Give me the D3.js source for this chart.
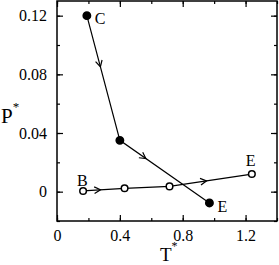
<!DOCTYPE html>
<meta charset="utf-8">
<script src="https://d3js.org/d3.v7.min.js"></script>
<style>
  body { margin: 0; background: #fff; }
  text { font-family: "Liberation Serif", "DejaVu Serif", serif; fill: #000; }
</style>
<div id="chart"></div>
<script>
// data
var cT = [0.19, 0.40, 0.97];          // filled path C -> E
var cP = [0.12, 0.035, -0.0077];
var bT = [0.166, 0.43, 0.716, 1.24];  // open path B -> E
var bP = [0.0005, 0.0023, 0.0036, 0.012];
// where the arrow sits along each segment (fraction)
var cArrow = [0.41, 0.29];
var bArrow = [0.42, null, 0.45];
var xTicks = [0, 0.4, 0.8, 1.2];
var yTicks = [0, 0.04, 0.08, 0.12];

var W = 279, H = 265;
var margin = {top: 1, right: 2, bottom: 44, left: 57},
    width = W - margin.left - margin.right,
    height = H - margin.top - margin.bottom;

var svg = d3.select("#chart").append("svg")
    .attr("width", W).attr("height", H)
  .append("g")
    .attr("transform", "translate(" + margin.left + "," + margin.top + ")");

var x = d3.scaleLinear().domain([0, 1.4]).range([0, width]);
var y = d3.scaleLinear().domain([-0.02, 0.13]).range([height, 0]);

var xMinor = d3.range(0, 1.41, 0.2);
var yMinor = d3.range(-0.02, 0.131, 0.02);

var fmtX = function(d) { return d3.format("")(+d.toFixed(1)); };
var fmtY = function(d) { return d3.format("")(+d.toFixed(2)); };

function styleAxis(g) {
  g.select(".domain").remove();
  g.selectAll("line").attr("stroke", "#000").attr("stroke-width", 1.2);
  g.selectAll("text").style("font-size", "16px").attr("fill", "#000");
}

// minor ticks, pointing inward on all four sides
svg.append("g").attr("transform", "translate(0," + height + ")")
  .call(d3.axisBottom(x).tickValues(xMinor).tickSize(-3).tickFormat(""))
  .call(styleAxis);
svg.append("g")
  .call(d3.axisTop(x).tickValues(xMinor).tickSize(-3).tickFormat(""))
  .call(styleAxis);
svg.append("g")
  .call(d3.axisLeft(y).tickValues(yMinor).tickSize(-3).tickFormat(""))
  .call(styleAxis);
svg.append("g").attr("transform", "translate(" + width + ",0)")
  .call(d3.axisRight(y).tickValues(yMinor).tickSize(-3).tickFormat(""))
  .call(styleAxis);

// major ticks
svg.append("g").attr("transform", "translate(0," + height + ")")
  .call(d3.axisBottom(x).tickValues(xTicks).tickSize(-6).tickPadding(9).tickFormat(fmtX))
  .call(styleAxis);
svg.append("g")
  .call(d3.axisTop(x).tickValues(xTicks).tickSize(-6).tickFormat(""))
  .call(styleAxis);
svg.append("g")
  .call(d3.axisLeft(y).tickValues(yTicks).tickSize(-6).tickPadding(10).tickFormat(fmtY))
  .call(styleAxis);
svg.append("g").attr("transform", "translate(" + width + ",0)")
  .call(d3.axisRight(y).tickValues(yTicks).tickSize(-6).tickFormat(""))
  .call(styleAxis);

// frame
svg.append("rect")
  .attr("width", width).attr("height", height)
  .attr("fill", "none").attr("stroke", "#000").attr("stroke-width", 1.5);

var line = d3.line().x(function(d) { return x(d[0]); }).y(function(d) { return y(d[1]); });

function drawPath(ts, ps, arrows, filled) {
  var pts = ts.map(function(t, i) { return [t, ps[i]]; });
  svg.append("path").datum(pts).attr("d", line)
    .attr("fill", "none").attr("stroke", "#000").attr("stroke-width", 1.2);

  // open arrowheads along the segments
  arrows.forEach(function(f, i) {
    if (f == null) return;
    var x0 = x(pts[i][0]), y0 = y(pts[i][1]), x1 = x(pts[i + 1][0]), y1 = y(pts[i + 1][1]);
    var tx = x0 + (x1 - x0) * f, ty = y0 + (y1 - y0) * f;
    var a = Math.atan2(y1 - y0, x1 - x0), L = 7, s = 0.5;
    var p = [[tx - L * Math.cos(a - s), ty - L * Math.sin(a - s)], [tx, ty],
             [tx - L * Math.cos(a + s), ty - L * Math.sin(a + s)]];
    svg.append("path").attr("d", "M" + p.join("L"))
      .attr("fill", "none").attr("stroke", "#000").attr("stroke-width", 1.2);
  });

  svg.selectAll(null).data(pts).enter().append("circle")
    .attr("cx", function(d) { return x(d[0]); })
    .attr("cy", function(d) { return y(d[1]); })
    .attr("r", filled ? 3.7 : 3.3)
    .attr("fill", filled ? "#000" : "#fff")
    .attr("stroke", "#000").attr("stroke-width", 1.5);
}

drawPath(cT, cP, cArrow, true);
drawPath(bT, bP, bArrow, false);

// point labels
function label(t, p, dx, dy, s) {
  svg.append("text").attr("x", x(t) + dx).attr("y", y(p) + dy)
    .style("font-size", "16px").text(s);
}
label(cT[0], cP[0], 8, 8, "C");
label(cT[2], cP[2], 8, 9, "E");
label(bT[0], bP[0], -6, -5, "B");
label(bT[3], bP[3], -6, -8, "E");

// axis titles
var py = svg.append("text").attr("x", -56).attr("y", 122)
  .style("font-size", "21px");
py.append("tspan").text("P");
py.append("tspan").attr("dy", -12).style("font-size", "13px").text("*");

var tx = svg.append("text").attr("x", width / 2 - 7).attr("y", 260)
  .style("font-size", "19px");
tx.append("tspan").text("T");
tx.append("tspan").attr("dy", -11).style("font-size", "12px").text("*");
</script>
